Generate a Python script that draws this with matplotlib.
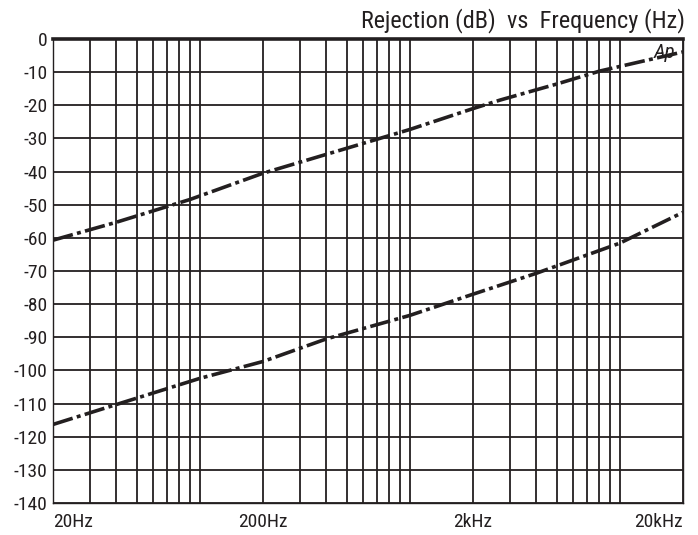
import matplotlib
matplotlib.use("Agg")
import matplotlib.pyplot as plt
from matplotlib import font_manager
import numpy as np

names = {f.name for f in font_manager.fontManager.ttflist}
if 'Roboto Condensed' in names:
    FAM = ['Roboto Condensed', 'DejaVu Sans']
    STRETCH = 'normal'
else:
    FAM = ['DejaVu Sans']
    STRETCH = 'condensed'
plt.rcParams['font.family'] = FAM
WEIGHT = 'normal'

# Data
upper_freq = [20, 40, 90, 200, 1000, 2000, 2700, 5000, 8000, 20000]
upper_db = [-60.7, -55.3, -48.4, -40.5, -27.3, -21.0, -18.4, -13.6, -9.7, -3.9]
lower_freq = [20, 40, 100, 200, 400, 1000, 2000, 4000, 10000, 20000]
lower_db = [-116.3, -110.3, -102.4, -97.3, -90.5, -83.4, -77.0, -70.7, -61.6, -52.3]

yticks = list(range(0, -141, -10))
xtick_pos = [20, 200, 2000, 20000]
xtick_labels = ['20Hz', '200Hz', '2kHz', '20kHz']
title = 'Rejection (dB)  vs  Frequency (Hz)'
series_label = 'Ap'

ink = '#231f20'

fig = plt.figure(figsize=(6.98, 5.35), dpi=100)
ax = fig.add_axes([53/698, 1-503/535, 630/698, 464/535])
ax.set_xscale('log')
ax.set_xlim(20, 20000)
ax.set_ylim(-140, 0)

ax.set_yticks(yticks)
ax.set_xticks(xtick_pos)
ax.xaxis.set_minor_locator(matplotlib.ticker.LogLocator(base=10, subs=np.arange(1, 10)))
ax.xaxis.set_minor_formatter(matplotlib.ticker.NullFormatter())
ax.grid(True, which='both', axis='x', color=ink, lw=1.3)
ax.grid(True, which='major', axis='y', color=ink, lw=1.3)
ax.set_axisbelow(True)

ax.set_yticklabels([str(v) for v in yticks], fontsize=14, fontstretch=STRETCH,
                   fontweight=WEIGHT, color=ink)
ax.set_xticklabels(xtick_labels, fontsize=14, fontstretch=STRETCH,
                   fontweight=WEIGHT, color=ink)
lbls = ax.get_xticklabels()
lbls[0].set_ha('left')
lbls[-1].set_ha('right')
ax.tick_params(which='both', length=0, pad=4)
ax.tick_params(axis='x', pad=7)

for s in ['left', 'bottom', 'right']:
    ax.spines[s].set_linewidth(1.0)
    ax.spines[s].set_color(ink)
ax.spines['top'].set_linewidth(2.6)
ax.spines['top'].set_color(ink)

dash = (5.7, 1.2, 1.1, 1.2)
ax.plot(upper_freq, upper_db, color=ink, lw=2.6, dashes=dash, solid_capstyle='butt')
ax.plot(lower_freq, lower_db, color=ink, lw=2.6, dashes=dash, solid_capstyle='butt')

ax.text(0.97, 0.97, series_label, transform=ax.transAxes, ha='center', va='center',
        fontsize=15, style='italic', fontstretch=STRETCH, fontweight=WEIGHT, color=ink)

ax.text(1.003, 1.012, title, transform=ax.transAxes, ha='right', va='bottom',
        fontsize=17.5, fontstretch=STRETCH, fontweight=WEIGHT, color=ink)

fig.savefig('out.png', dpi=100)
